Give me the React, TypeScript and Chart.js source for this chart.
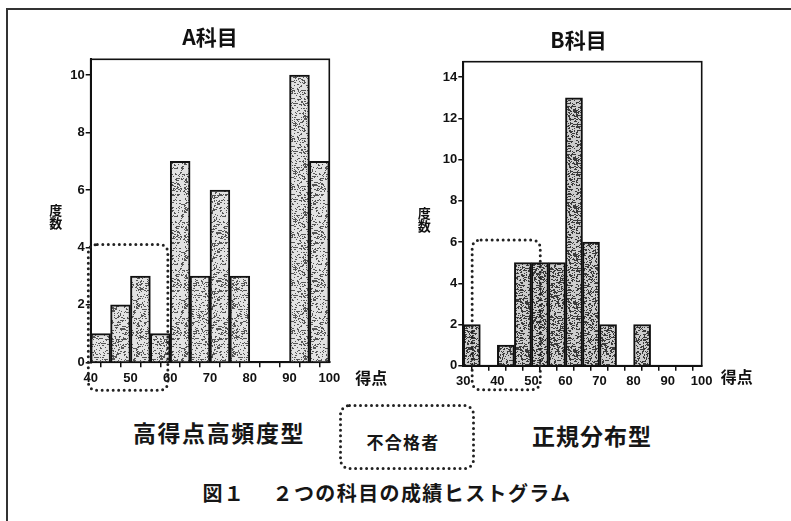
import React, { useEffect, useRef } from "react";
import { Chart, registerables } from "chart.js";

Chart.register(...registerables);

// ---- data ----
const binWidth = 5;
const binStartsA = [40, 45, 50, 55, 60, 65, 70, 75, 80, 85, 90, 95];
const countsA = [1, 2, 3, 1, 7, 3, 6, 3, 0, 0, 10, 7];
const binStartsB = [30, 35, 40, 45, 50, 55, 60, 65, 70, 75, 80, 85, 90, 95];
const countsB = [2, 0, 1, 5, 5, 5, 13, 6, 2, 0, 2, 0, 0, 0];
const titleA = "A科目";
const titleB = "B科目";
const yAxisLabel = "度数";
const xAxisLabel = "得点";
const typeLabelA = "高得点高頻度型";
const typeLabelB = "正規分布型";
const legendLabel = "不合格者";
const caption = "図１　 ２つの科目の成績ヒストグラム";

// fail-zone annotation (data units)
const failA = { xMin: 39.4, xMax: 59.4, yMax: 4.1 };
const failB = { xMin: 32.6, xMax: 52.6, yMax: 6.1 };

const CJK = '"Noto Sans CJK JP", "Noto Sans", sans-serif';

function makeStipple(base: string, dot: string, count: number, seed: number) {
  const c = document.createElement("canvas");
  c.width = 48;
  c.height = 48;
  const g = c.getContext("2d")!;
  g.fillStyle = base;
  g.fillRect(0, 0, 48, 48);
  let s = seed;
  const rnd = () => {
    s = (s * 16807) % 2147483647;
    return s / 2147483647;
  };
  g.fillStyle = dot;
  for (let i = 0; i < count; i++) {
    const x = Math.floor(rnd() * 48);
    const y = Math.floor(rnd() * 48);
    g.fillRect(x, y, rnd() > 0.7 ? 2 : 1, 1);
  }
  return g.createPattern(c, "repeat")!;
}

function roundRectPath(ctx: CanvasRenderingContext2D, x: number, y: number, w: number, h: number, r: number) {
  ctx.beginPath();
  ctx.moveTo(x + r, y);
  ctx.lineTo(x + w - r, y);
  ctx.quadraticCurveTo(x + w, y, x + w, y + r);
  ctx.lineTo(x + w, y + h - r);
  ctx.quadraticCurveTo(x + w, y + h, x + w - r, y + h);
  ctx.lineTo(x + r, y + h);
  ctx.quadraticCurveTo(x, y + h, x, y + h - r);
  ctx.lineTo(x, y + r);
  ctx.quadraticCurveTo(x, y, x + r, y);
  ctx.closePath();
}

const decorPlugin = {
  id: "decor",
  afterDraw(chart: any, _args: any, opts: any) {
    const { ctx, chartArea, scales } = chart;
    const { left, right, top, bottom } = chartArea;
    ctx.save();
    // plot frame
    ctx.strokeStyle = "#111";
    ctx.lineWidth = 1.6;
    ctx.strokeRect(left, top, right - left, bottom - top);
    // title
    ctx.fillStyle = "#111";
    ctx.font = `bold 21px ${CJK}`;
    ctx.textAlign = "center";
    ctx.textBaseline = "middle";
    ctx.fillText(opts.title, (left + right) / 2 + (opts.titleDx || 0), top - 22);
    // y axis label (stacked)
    ctx.font = `bold 13px ${CJK}`;
    const cy = top + (bottom - top) * 0.518;
    const lx = left - opts.yLabelDx;
    ctx.fillText(opts.yLabel[0], lx, cy - 6.5);
    ctx.fillText(opts.yLabel[1], lx, cy + 7);
    // x axis label
    ctx.font = `bold 16px ${CJK}`;
    ctx.textAlign = "left";
    ctx.fillText(opts.xLabel, right + opts.xLabelDx, bottom + opts.xLabelDy);
    // fail zone dotted box
    const f = opts.fail;
    const x0 = scales.x.getPixelForValue(f.xMin);
    const x1 = scales.x.getPixelForValue(f.xMax);
    const y0 = scales.y.getPixelForValue(f.yMax);
    const y1 = bottom + opts.failBelow;
    ctx.strokeStyle = "#222";
    ctx.lineWidth = 3;
    ctx.lineCap = "round";
    ctx.setLineDash([0, 5.5]);
    roundRectPath(ctx, x0, y0, x1 - x0, y1 - y0, 9);
    ctx.stroke();
    ctx.restore();
  },
};

function makeConfig(
  starts: number[],
  counts: number[],
  xMin: number,
  yMax: number,
  yWidth: number,
  xHeight: number,
  padding: any,
  fill: any,
  decor: any
) {
  const tickFont = { family: '"Liberation Sans", Arial, sans-serif', weight: "bold" as const, size: 13 };
  return {
    type: "bar" as const,
    data: {
      datasets: [
        {
          data: starts.map((s, i) => ({ x: s + binWidth / 2, y: counts[i] })),
          backgroundColor: fill,
          borderColor: "#111",
          borderWidth: (c: any) => (c.raw && c.raw.y === 0 ? 0 : 2),
          barPercentage: 1,
          categoryPercentage: 1,
        },
      ],
    },
    options: {
      responsive: false,
      animation: false as const,
      devicePixelRatio: 1,
      layout: { padding },
      plugins: {
        legend: { display: false },
        tooltip: { enabled: false },
        decor,
      },
      scales: {
        x: {
          type: "linear" as const,
          min: xMin,
          max: 100,
          offset: false,
          grid: { drawOnChartArea: false, drawTicks: true, tickLength: 5, color: "#111", lineWidth: 1.5 },
          border: { display: true, color: "#111", width: 2 },
          ticks: {
            stepSize: 5,
            autoSkip: false,
            maxRotation: 0,
            includeBounds: false,
            padding: 3,
            color: "#111",
            font: tickFont,
            callback: (v: any) => (Number(v) % 10 === 0 ? String(v) : ""),
          },
          afterFit: (scale: any) => {
            scale.height = xHeight;
          },
        },
        y: {
          type: "linear" as const,
          min: 0,
          max: yMax,
          grid: { drawOnChartArea: false, drawTicks: true, tickLength: 5, color: "#111", lineWidth: 1.5 },
          border: { display: true, color: "#111", width: 2 },
          ticks: {
            stepSize: 2,
            includeBounds: false,
            padding: 1,
            color: "#111",
            font: tickFont,
          },
          afterFit: (scale: any) => {
            scale.width = yWidth;
          },
        },
      },
    },
    plugins: [decorPlugin],
  };
}

function App() {
  const refA = useRef<HTMLCanvasElement>(null);
  const refB = useRef<HTMLCanvasElement>(null);

  useEffect(() => {
    const ctxA = refA.current!.getContext("2d")!;
    const ctxB = refB.current!.getContext("2d")!;
    const fillA = makeStipple("#e2e2e2", "#555", 520, 12345);
    const fillB = makeStipple("#cdcdcd", "#3a3a3a", 820, 67891);
    const chartA = new Chart(
      ctxA,
      makeConfig(binStartsA, countsA, 40, 10.55, 90.7, 37.7, { left: 0, top: 59.3, right: 65.7, bottom: 0 }, fillA, {
        title: titleA,
        yLabel: yAxisLabel,
        xLabel: xAxisLabel,
        yLabelDx: 35,
        xLabelDx: 26,
        xLabelDy: 16,
        fail: failA,
        failBelow: 28,
      }) as any
    );
    const chartB = new Chart(
      ctxB,
      makeConfig(binStartsB, countsB, 30, 14.75, 68.3, 34.3, { left: 0, top: 61.7, right: 89.3, bottom: 0 }, fillB, {
        title: titleB,
        titleDx: -4,
        yLabel: yAxisLabel,
        xLabel: xAxisLabel,
        yLabelDx: 39,
        xLabelDx: 19,
        xLabelDy: 11,
        fail: failB,
        failBelow: 24,
      }) as any
    );
    return () => {
      chartA.destroy();
      chartB.destroy();
    };
  }, []);

  const bold = { fontFamily: CJK, fontWeight: 700, color: "#161616", lineHeight: 1, whiteSpace: "pre" as const };

  return (
    <div style={{ position: "fixed", left: 0, top: 0, width: 791, height: 521, background: "#fff", overflow: "hidden" }}>
      <div
        style={{
          position: "absolute",
          left: 6,
          top: 8,
          width: 790,
          height: 511,
          borderLeft: "2px solid #333",
          borderTop: "2px solid #333",
          borderBottom: "1.5px solid #777",
        }}
      />
      <canvas ref={refA} width={395} height={400} style={{ position: "absolute", left: 0, top: 0, width: 395, height: 400 }} />
      <canvas ref={refB} width={396} height={400} style={{ position: "absolute", left: 395, top: 0, width: 396, height: 400 }} />
      <div style={{ ...bold, position: "absolute", left: 219, top: 432, fontSize: 23, letterSpacing: 1.6, transform: "translate(-50%, -50%)" }}>
        {typeLabelA}
      </div>
      <svg style={{ position: "absolute", left: 338, top: 403 }} width={138} height={68}>
        <rect
          x={2.5}
          y={2.5}
          width={133}
          height={63}
          rx={9}
          ry={9}
          fill="none"
          stroke="#222"
          strokeWidth={3}
          strokeLinecap="round"
          strokeDasharray="0 5.5"
        />
      </svg>
      <div style={{ ...bold, position: "absolute", left: 403, top: 441, fontSize: 17, letterSpacing: 1.3, transform: "translate(-50%, -50%)" }}>
        {legendLabel}
      </div>
      <div style={{ ...bold, position: "absolute", left: 592, top: 435, fontSize: 23, letterSpacing: 1, transform: "translate(-50%, -50%)" }}>
        {typeLabelB}
      </div>
      <div style={{ ...bold, position: "absolute", left: 387, top: 493, fontSize: 20, letterSpacing: 1.4, transform: "translate(-50%, -50%)" }}>
        {caption}
      </div>
    </div>
  );
}

export default App;
